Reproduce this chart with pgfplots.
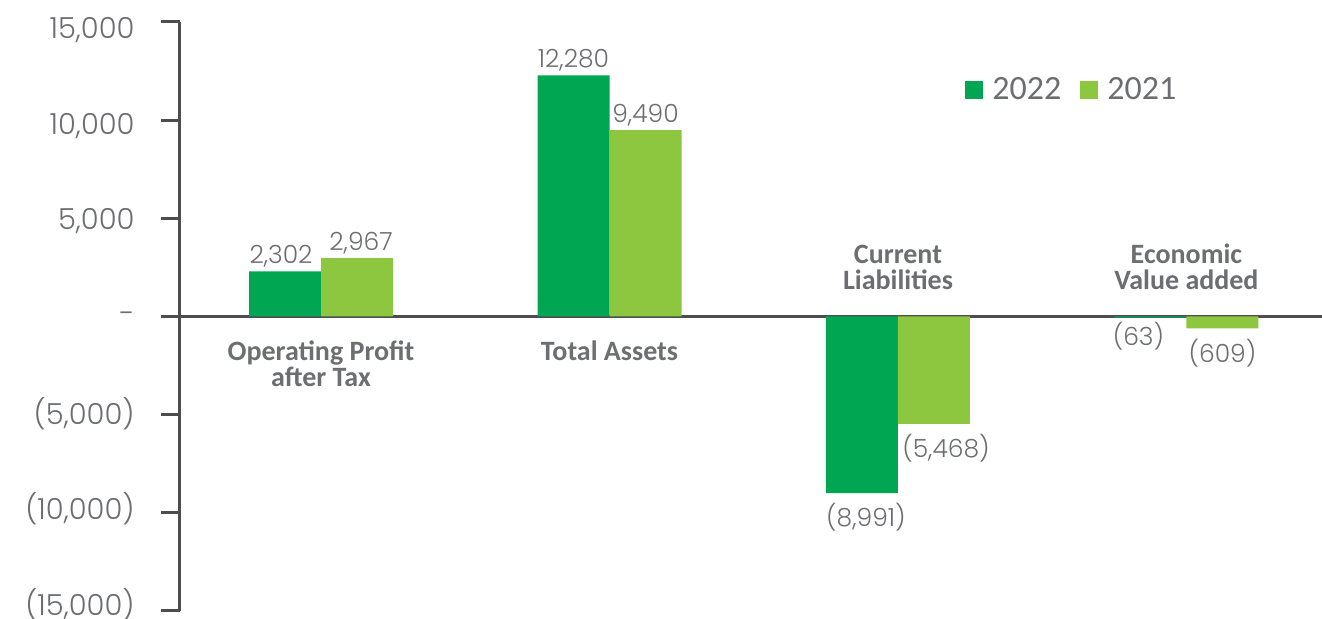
\documentclass[border=0pt]{standalone}
\usepackage{fontspec}
\usepackage{pgfplots}
\pgfplotsset{compat=1.18}
\setmainfont{Carlito}
\IfFontExistsTF{Poppins Light}{\newfontfamily\numfont{Poppins Light}}{\newfontfamily\numfont{Poppins}}
\definecolor{dkgreen}{HTML}{00A651}
\definecolor{ltgreen}{HTML}{8DC63F}
\definecolor{txtgray}{HTML}{6D6E71}
\definecolor{axgray}{HTML}{4D4D4F}
\tikzset{catlab/.style={font=\fontsize{14}{13}\selectfont\bfseries, text=txtgray, align=center, inner sep=0pt}}

\begin{document}
\begin{tikzpicture}
\useasboundingbox (-90pt,-4pt) rectangle (571pt,305.5pt);
\begin{axis}[
    at={(0pt,0pt)}, anchor=south west,
    width=571pt, height=294.5pt, scale only axis,
    ybar=0pt, bar width=36pt,
    xmin=-0.489, xmax=3.47,
    ymin=-15000, ymax=15000,
    axis x line*=middle, axis y line*=left,
    axis line style={axgray, line width=1.5pt},
    xtick=\empty,
    ytick={-15000,-10000,...,15000},
    scaled y ticks=false,
    yticklabels={{(15,000)},{(10,000)},{(5,000)},{-},{5,000},{10,000},{15,000}},
    tick align=outside, major tick length=9.5pt,
    tick style={axgray, line width=1.5pt},
    yticklabel style={font=\fontsize{14.5}{14.5}\selectfont\numfont, text=txtgray, inner xsep=0pt, xshift=-13pt,
        yshift={3pt-\ticknum*1.15pt}},
    clip=false,
    nodes near coords,
    point meta=explicit symbolic,
    visualization depends on={value \thisrow{anc} \as \anc},
    visualization depends on={value \thisrow{dx} \as \dx},
    visualization depends on={value \thisrow{dy} \as \dy},
    nodes near coords style={font=\fontsize{12.5}{12.5}\selectfont\numfont, text=txtgray, inner ysep=5pt, inner xsep=0pt},
    every node near coord/.append style={anchor=\anc, xshift=\dx pt, yshift=\dy pt},
    every axis plot post/.append style={legend image code/.code={\fill[##1] (0pt,-4.5pt) rectangle (9pt,4.5pt);}},
    legend columns=2,
    legend style={at={(rel axis cs:0.6874,0.884)}, anchor=west, draw=none, fill=none,
        inner sep=0pt, font=\fontsize{17}{17}\selectfont, text=txtgray,
        nodes={inner sep=0pt},
        /tikz/every odd column/.append style={column sep=4.5pt},
        /tikz/every even column/.append style={column sep=9.5pt}},
]
% 2022
\addplot[fill=dkgreen, draw=none] table[x=x, y=y, meta=lab] {
x y     lab     anc   dx  dy
0 2302  2,302   south -2  -3
1 12280 12,280  south 0   -3
2 -8991 (8,991) north 2   0
3 -63   (63)    north -6  3
};
% 2021
\addplot[fill=ltgreen, draw=none] table[x=x, y=y, meta=lab] {
x y     lab     anc   dx  dy
0 2967  2,967   south 2   -3
1 9490  9,490   south 0   -3
2 -5468 (5,468) north 6   0
3 -609  (609)   north 0   0
};
\legend{2022,2021}

\node[catlab, anchor=north, yshift=-12pt] at (axis cs:0,0) {Operating Profit\\after Tax};
\node[catlab, anchor=north, yshift=-12pt] at (axis cs:1,0) {Total Assets};
\node[catlab, anchor=south, yshift=13pt] at (axis cs:2,0) {Current\\Liabilities};
\node[catlab, anchor=south, yshift=13pt] at (axis cs:3,0) {Economic\\Value added};
\end{axis}
\end{tikzpicture}
\end{document}
